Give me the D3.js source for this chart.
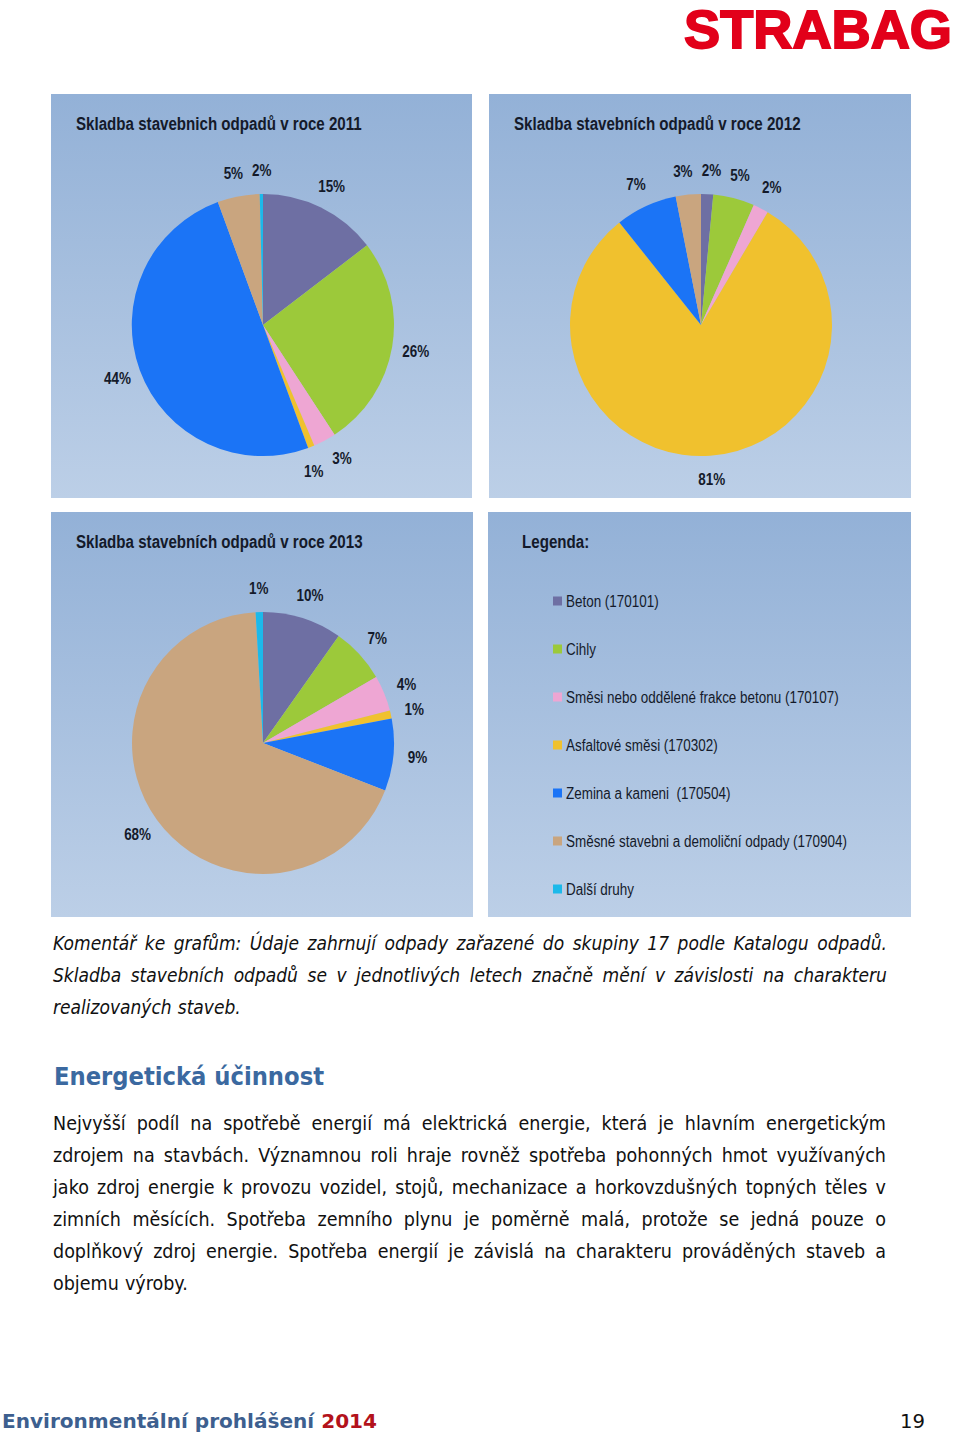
<!DOCTYPE html>
<html><head><meta charset="utf-8">
<script src="https://cdn.jsdelivr.net/npm/d3@7"></script>
<style>body{margin:0;background:#fff} svg{display:block}</style>
</head><body>
<svg id="c" width="960" height="1433"></svg>
<script>
// ---------- data ----------
const categories = ["Beton (170101)", "Cihly", "Směsi nebo oddělené frakce betonu (170107)", "Asfaltové směsi (170302)", "Zemina a kameni  (170504)", "Směsné stavebni a demoliční odpady (170904)", "Další druhy"];
const colors = ["#6e6fa3", "#9cc93a", "#eea6d3", "#f0c12e", "#1b74f6", "#c9a57f", "#1cb9ea"];
const titles = ["Skladba stavebnich odpadů v roce 2011", "Skladba stavebních odpadů v roce 2012", "Skladba stavebních odpadů v roce 2013"];
const values2011 = [14.6, 26.2, 2.8, 0.8, 50.0, 5.2, 0.4];
const labels2011 = ["15%", "26%", "3%", "1%", "44%", "5%", "2%"];
const values2012 = [1.5, 5.1, 1.9, 80.8, 7.6, 3.1, 0];
const labels2012 = ["2%", "5%", "2%", "81%", "7%", "3%", ""];
const values2013 = [9.8, 6.8, 4.4, 1.0, 8.9, 68.2, 0.9];
const labels2013 = ["10%", "7%", "4%", "1%", "9%", "68%", "1%"];
const legendTitle = "Legenda:";
const commentLines = [
  "Komentář ke grafům: Údaje zahrnují odpady zařazené do skupiny 17 podle Katalogu odpadů.",
  "Skladba stavebních odpadů se v jednotlivých letech značně mění v závislosti na charakteru",
  "realizovaných staveb."
];
const heading = "Energetická účinnost";
const paraLines = [
  "Nejvyšší podíl na spotřebě energií má elektrická energie, která je hlavním energetickým",
  "zdrojem na stavbách. Významnou roli hraje rovněž spotřeba pohonných hmot využívaných",
  "jako zdroj energie k provozu vozidel, stojů, mechanizace a horkovzdušných topných těles v",
  "zimních měsících. Spotřeba zemního plynu je poměrně malá, protože se jedná pouze o",
  "doplňkový zdroj energie. Spotřeba energií je závislá na charakteru prováděných staveb a",
  "objemu výroby."
];

// ---------- drawing ----------
const svg = d3.select("#c");
svg.append("rect").attr("width", 960).attr("height", 1433).attr("fill", "#fff");
const defs = svg.append("defs");
const grad = defs.append("linearGradient").attr("id", "bg").attr("x1", 0).attr("y1", 0).attr("x2", 0).attr("y2", 1);
grad.append("stop").attr("offset", 0).attr("stop-color", "#93b1d7");
grad.append("stop").attr("offset", 1).attr("stop-color", "#bccfe7");

const SANS = "'Liberation Sans',Arial,sans-serif";
const K = 0.84; // horizontal condensing (Arial Narrow look)
const color = d3.scaleOrdinal().domain(categories).range(colors);

function condense(sel, k) {
  sel.each(function () {
    const w = this.getComputedTextLength();
    d3.select(this).attr("textLength", w * k).attr("lengthAdjust", "spacingAndGlyphs");
  });
  return sel;
}

// logo
svg.append("text").attr("x", 684).attr("y", 48)
  .attr("font-family", SANS).attr("font-weight", 900)
  .attr("font-size", 53).attr("fill", "#e2001a")
  .attr("textLength", 268).attr("lengthAdjust", "spacingAndGlyphs")
  .style("stroke", "#e2001a").style("stroke-width", 1.8)
  .text("STRABAG");

const panels = [
  {x: 51, y: 94, w: 421, h: 404},
  {x: 489, y: 94, w: 422, h: 404},
  {x: 51, y: 512, w: 422, h: 405},
  {x: 488, y: 512, w: 423, h: 405}
];
panels.forEach(p => {
  svg.append("rect").attr("x", p.x).attr("y", p.y).attr("width", p.w).attr("height", p.h).attr("fill", "url(#bg)");
});

const R = 131;
const pie = d3.pie().sort(null).value(d => d);
const arc = d3.arc().innerRadius(0).outerRadius(R);
const RL = R + 24;
const labelArc = d3.arc().innerRadius(RL).outerRadius(RL);

const charts = [
  {vals: values2011, labs: labels2011, title: titles[0], p: panels[0]},
  {vals: values2012, labs: labels2012, title: titles[1], p: panels[1]},
  {vals: values2013, labs: labels2013, title: titles[2], p: panels[2]}
];

function relax(L) {
  const pos = l => labelArc.centroid({startAngle: l.ang, endAngle: l.ang});
  for (let it = 0; it < 400; it++) {
    let moved = false;
    L.sort((a, b) => a.ang - b.ang);
    for (let i = 0; i < L.length; i++) {
      const a = L[i], b = L[(i + 1) % L.length];
      if (a === b) continue;
      const pa = pos(a), pb = pos(b);
      if (Math.abs(pa[0] - pb[0]) < (a.w + b.w) / 2 + 8 && Math.abs(pa[1] - pb[1]) < 17) {
        a.ang -= 0.004; b.ang += 0.004; moved = true;
      }
    }
    if (!moved) break;
  }
}

charts.forEach(c => {
  const g = svg.append("g").attr("transform", `translate(${c.p.x},${c.p.y})`);
  condense(g.append("text").attr("x", 25).attr("y", 36)
    .attr("font-family", SANS).attr("font-weight", "bold").attr("font-size", 18)
    .attr("fill", "#141a2a").text(c.title), K);
  const pg = g.append("g").attr("transform", `translate(212,231)`);
  const arcs = pie(c.vals).map((a, i) => Object.assign(a, {cat: categories[i], lab: c.labs[i]}));
  pg.selectAll("path").data(arcs.filter(a => a.value > 0)).join("path")
    .attr("d", arc).attr("fill", d => color(d.cat));
  const L = arcs.filter(a => a.lab).map(a => Object.assign({}, a, {ang: (a.startAngle + a.endAngle) / 2}));
  const lt = pg.selectAll("text").data(L).join("text")
    .attr("text-anchor", "middle").attr("dy", "0.36em")
    .attr("font-family", SANS).attr("font-weight", "bold").attr("font-size", 16)
    .attr("fill", "#141a2a").text(d => d.lab);
  lt.each(function (d) { d.w = this.getComputedTextLength() * K; });
  condense(lt, K);
  relax(L);
  lt.attr("transform", d => `translate(${labelArc.centroid({startAngle: d.ang, endAngle: d.ang})})`);
});

// legend
const lp = panels[3];
const lg = svg.append("g").attr("transform", `translate(${lp.x},${lp.y})`);
condense(lg.append("text").attr("x", 34).attr("y", 36)
  .attr("font-family", SANS).attr("font-weight", "bold").attr("font-size", 18)
  .attr("fill", "#141a2a").text(legendTitle), K);
const ly = d3.scalePoint().domain(categories).range([89, 377]);
const li = lg.selectAll("g.item").data(categories).join("g").attr("class", "item")
  .attr("transform", d => `translate(65,${ly(d)})`);
li.append("rect").attr("x", 0).attr("y", -4.5).attr("width", 9).attr("height", 9).attr("fill", d => color(d));
condense(li.append("text").attr("x", 13).attr("y", 6)
  .attr("font-family", SANS).attr("font-size", 16).attr("fill", "#141a2a")
  .style("white-space", "pre").text(d => d), K);

// justified text block helper: each line is horizontally scaled by sx, words spread to fill width
function block(lines, x0, y0, lh, width, font, size, style, fill, lastNatural) {
  const meas = svg.append("text").attr("font-family", font).attr("font-size", size).attr("font-style", style);
  const wordsW = lines.map(l => l.split(" ").map(w => { meas.text(w); return meas.node().getComputedTextLength(); }));
  meas.text("a a"); const sp = meas.node().getComputedTextLength(); meas.text("aa"); const spw = sp - meas.node().getComputedTextLength();
  meas.remove();
  let sx = 0.9;
  lines.forEach((l, i) => {
    if (lastNatural && i === lines.length - 1) return;
    const W = d3.sum(wordsW[i]); const n = wordsW[i].length;
    sx = Math.min(sx, (width - (n - 1) * spw * 1.1) / W);
  });
  const g = svg.append("g");
  lines.forEach((l, i) => {
    const words = l.split(" ");
    const W = d3.sum(wordsW[i]);
    const n = words.length;
    const natural = lastNatural && i === lines.length - 1;
    // gap in screen pixels
    const gap = natural ? spw * sx * 1.1 : (width - W * sx) / (n - 1);
    const t = g.append("text")
      .attr("transform", `translate(${x0},${y0 + i * lh}) scale(${sx},1)`)
      .attr("font-family", font).attr("font-size", size)
      .attr("font-style", style).attr("fill", fill);
    let x = 0;
    words.forEach((w, j) => {
      t.append("tspan").attr("x", x).text(w);
      x += wordsW[i][j] + gap / sx;
    });
  });
}

block(commentLines, 53, 950, 32, 834, "'DejaVu Sans',Verdana,sans-serif", 19, "italic", "#111", true);

svg.append("text").attr("x", 54).attr("y", 1085)
  .attr("font-family", "'DejaVu Sans',Verdana,sans-serif").attr("font-weight", "bold").attr("font-size", 24)
  .attr("fill", "#3b69a0").attr("textLength", 270).attr("lengthAdjust", "spacingAndGlyphs").text(heading);

block(paraLines, 53, 1130, 32, 833, "'DejaVu Sans',Verdana,sans-serif", 19.5, "normal", "#111", true);

// footer
const ft = svg.append("text").attr("x", 2).attr("y", 1428)
  .attr("font-family", "'DejaVu Sans',Verdana,sans-serif").attr("font-weight", "bold").attr("font-size", 20)
  .attr("textLength", 375).attr("lengthAdjust", "spacingAndGlyphs");
ft.append("tspan").attr("fill", "#3d5f8f").text("Environmentální prohlášení ");
ft.append("tspan").attr("fill", "#b3121b").text("2014");
svg.append("text").attr("x", 925).attr("y", 1428).attr("text-anchor", "end")
  .attr("font-family", "'DejaVu Sans',Verdana,sans-serif").attr("font-size", 20)
  .attr("textLength", 25).attr("lengthAdjust", "spacingAndGlyphs").attr("fill", "#111").text("19");
</script>
</body></html>
